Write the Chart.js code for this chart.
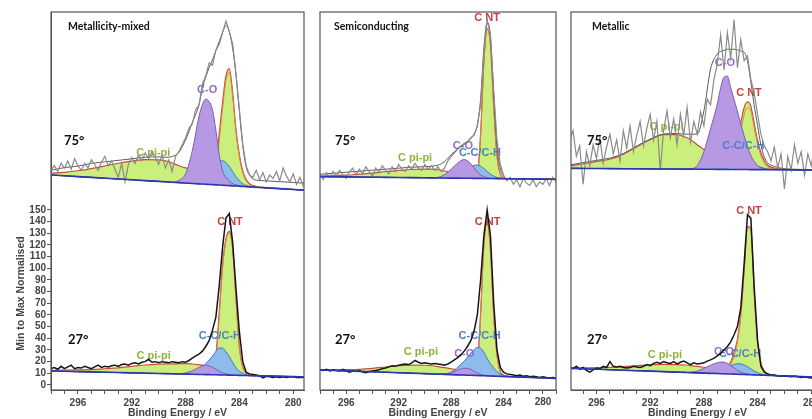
<!DOCTYPE html>
<html>
<head>
<meta charset="utf-8">
<script src="https://cdn.jsdelivr.net/npm/chart.js@4.4.1/dist/chart.umd.min.js"></script>
<style>
  html, body { margin: 0; padding: 0; background: #fff; width: 812px; height: 419px; overflow: hidden; position: relative; }
  canvas { position: absolute; top: 0; }
</style>
</head>
<body>
<canvas id="cLeft" width="310" height="419" style="left:0px"></canvas>
<canvas id="cMid" width="252" height="419" style="left:310px"></canvas>
<canvas id="cRight" width="270" height="419" style="left:562px"></canvas>
<script>
// energy grid of the measured spectra (eV)
var rawE = [298, 297.75, 297.5, 297.25, 297, 296.75, 296.5, 296.25,
  296, 295.75, 295.5, 295.25, 295, 294.75, 294.5, 294.25,
  294, 293.75, 293.5, 293.25, 293, 292.75, 292.5, 292.25,
  292, 291.75, 291.5, 291.25, 291, 290.75, 290.5, 290.25,
  290, 289.75, 289.5, 289.25, 289, 288.75, 288.5, 288.25,
  288, 287.75, 287.5, 287.25, 287, 286.75, 286.5, 286.25,
  286, 285.75, 285.5, 285.25, 285, 284.75, 284.5, 284.25,
  284, 283.75, 283.5, 283.25, 283, 282.75, 282.5, 282.25,
  282, 281.75, 281.5, 281.25, 281, 280.75, 280.5, 280.25,
  280, 279.75, 279.5, 279.25];

// energy grid of the fitted components (eV)
var fitE = [298, 297, 296, 295, 294, 293, 292, 291, 290,
  289.5, 289, 288.5, 288, 287.5, 287, 286.75, 286.5, 286.25,
  286, 285.75, 285.5, 285.25, 285, 284.75, 284.5, 284.25, 284,
  283.75, 283.5, 283.25, 283, 282.5, 282, 281, 280, 279];

// background line end points
var bgE = [298, 279];
var bgTL = [180, 166.9], bgTM = [178.6, 176.2], bgTR = [185.7, 184.2];
var bgBL = [12, 6.9], bgBM = [12.9, 5.3], bgBR = [14.3, 6.5];

// ---- 75 deg, metallicity-mixed ----
var rawTL = [184, 188, 183, 190, 186, 192, 185, 194,
  188, 184, 190, 186, 193, 189, 184, 191,
  196, 188, 192, 185, 178, 190, 174, 189,
  195, 190, 197, 192, 199, 194, 200, 195,
  189, 197, 186, 193, 183, 196, 200, 206,
  212, 220, 224, 236, 240, 258, 265, 276,
  274, 287, 292, 302, 312, 303, 292, 266,
  236, 206, 188, 180, 178, 184, 176, 182,
  174, 180, 177, 183, 175, 186, 179, 174,
  181, 172, 178, 170];
var piPiTL = [1.5, 3, 5, 7.5, 10.5, 13.5, 16, 18, 18.5,
  18, 16.5, 14.5, 13, 12, 11, 10.5, 10, 9,
  8, 7, 6, 5, 4, 3.3, 2.7, 2.2, 1.7,
  1.3, 1, 0.7, 0.5, 0.3, 0.1, 0, 0, 0];
var cntTL = [0, 0, 0, 0, 0, 0, 0, 0, 0,
  0, 0, 0, 0, 0, 0, 0, 0, 1,
  3, 11, 38, 66, 90, 97, 77, 46, 25,
  12, 5, 2, 0.7, 0.1, 0, 0, 0, 0];
var coTL = [0, 0, 0, 0, 0, 0, 0, 0, 0,
  0, 0, 2, 8, 28, 58, 68, 73, 71,
  64, 47, 26, 12, 7, 4, 2, 1, 0.5,
  0.2, 0, 0, 0, 0, 0, 0, 0, 0];
var ccTL = [0, 0, 0, 0, 0, 0, 0, 0, 0,
  0, 0, 0, 0, 0.2, 1.5, 3, 5.5, 9,
  12.5, 16.5, 20, 21, 19.5, 16.5, 12, 8, 4.5,
  2.3, 1, 0.5, 0.2, 0, 0, 0, 0, 0];
var envTL = [4, 7, 9, 12, 14, 16, 18, 20, 21,
  21, 22, 26, 37, 52, 68, 82, 92, 100,
  107, 115, 123, 131, 137, 132, 118, 95, 64,
  35, 17, 10, 7, 6, 6, 6, 6, 6];

// ---- 27 deg, metallicity-mixed ----
var rawBL = [14, 15, 13.5, 16, 14, 15.5, 17, 14,
  15, 14.5, 16, 15, 14, 15.5, 17, 15,
  16, 15.5, 16.5, 17, 16, 17.5, 18, 17,
  18.5, 19, 18, 19.5, 20, 22, 19.5, 20,
  19, 20, 19.5, 19, 20, 19.5, 19, 20,
  19.5, 21, 23, 25, 26.5, 29, 33, 38,
  47, 58, 85, 118, 143, 147, 122, 82,
  45, 20, 11, 9.5, 9, 8.5, 8, 6,
  7.5, 7, 6.5, 7, 6.5, 7, 6.5, 7,
  7, 6.5, 6.5, 6.5];
var piPiBL = [0.5, 1, 1.5, 2, 3, 4, 5.5, 7, 8,
  8.3, 8.5, 8.8, 9, 8.8, 8.3, 8, 7.5, 6.5,
  5.5, 4.5, 3.5, 2.5, 1.8, 1.2, 0.8, 0.5, 0.3,
  0.2, 0.1, 0, 0, 0, 0, 0, 0, 0];
var cntBL = [0, 0, 0, 0, 0, 0, 0, 0, 0,
  0, 0, 0, 0, 0, 0, 0, 0, 0.5,
  2, 12, 50, 92, 115, 122, 108, 65, 24,
  7, 2, 0.5, 0, 0, 0, 0, 0, 0];
var coBL = [0, 0, 0, 0, 0, 0, 0, 0, 0,
  0, 0, 0.2, 1, 3, 6, 7.3, 8, 7.5,
  6.5, 4.8, 3, 1.8, 1, 0.5, 0.2, 0, 0,
  0, 0, 0, 0, 0, 0, 0, 0, 0];
var ccBL = [0, 0, 0, 0, 0, 0, 0, 0, 0,
  0, 0, 0, 0.3, 1, 4, 6.5, 9.5, 12.5,
  16, 20, 23, 23, 20, 16, 11, 6.5, 3.5,
  1.8, 0.8, 0.3, 0.1, 0, 0, 0, 0, 0];

// ---- 75 deg, semiconducting ----
var rawTM = [180, 176, 182, 178, 183, 179, 184, 180,
  177, 183, 186, 180, 185, 181, 187, 183,
  179, 186, 182, 188, 184, 181, 187, 183,
  189, 185, 183, 188, 185, 190, 186, 184,
  189, 185, 188, 184, 187, 183, 186, 192,
  196, 199, 202, 205, 207, 209, 212, 214,
  222, 240, 285, 313, 300, 252, 210, 189,
  180, 175, 178, 172, 176, 170, 177, 173,
  171, 176, 170, 174, 172, 177, 171, 178,
  174, 176, 173, 175];
var piPiTM = [0.5, 1, 1.5, 2.5, 3.5, 5, 6, 7, 7.5,
  7.5, 7, 6, 5, 4, 3, 2.5, 2, 1.6,
  1.2, 0.9, 0.6, 0.4, 0.3, 0.2, 0.1, 0, 0,
  0, 0, 0, 0, 0, 0, 0, 0, 0];
var cntTM = [0, 0, 0, 0, 0, 0, 0, 0, 0,
  0, 0, 0, 0, 0, 0, 0, 0, 0.5,
  3, 37, 100, 128, 115, 62, 20, 4, 0.5,
  0, 0, 0, 0, 0, 0, 0, 0, 0];
var coTM = [0, 0, 0, 0, 0, 0, 0, 0, 0,
  0, 0.5, 3, 7.5, 13, 16, 15, 12.5, 9,
  5.5, 3, 1.5, 0.6, 0.2, 0, 0, 0, 0,
  0, 0, 0, 0, 0, 0, 0, 0, 0];
var ccTM = [0, 0, 0, 0, 0, 0, 0, 0, 0,
  0, 0, 0, 0.3, 1.5, 4.5, 7, 9.5, 11.2,
  11.5, 10.5, 8.5, 6, 3.8, 2, 1, 0.4, 0.1,
  0, 0, 0, 0, 0, 0, 0, 0, 0];
var envTM = [2, 3, 4, 5, 6, 7, 8, 9, 9.5,
  10, 11, 14, 20, 25, 29, 31, 34, 38,
  46, 68, 112, 134, 122, 72, 28, 9, 2,
  0, 0, 0, 0, 0, 0, 0, 0, 0];

// ---- 27 deg, semiconducting ----
var rawBM = [13, 12.5, 13.5, 12, 13, 12.5, 12, 13.5,
  12, 11, 12, 11.5, 12.5, 11, 10.5, 11.5,
  12, 12.5, 13, 14, 14.5, 15.5, 16.5, 16,
  17, 17.5, 18, 17.5, 19, 21, 19.5, 18.5,
  19, 18.5, 18, 18.5, 18, 17.5, 17, 18,
  19.5, 21.5, 23.5, 26, 29, 33, 38, 46,
  60, 90, 128, 150, 128, 70, 30, 15,
  11, 9.5, 9, 8.5, 8, 8.5, 7.5, 8,
  7, 7.5, 7, 6.5, 7, 6.5, 6, 6.5,
  6, 6, 5.5, 5.5];
var piPiBM = [0.3, 0.5, 1, 1.8, 3, 4.5, 6, 7, 7.2,
  7, 6.5, 5.8, 5, 4.2, 3.4, 3, 2.6, 2.2,
  1.8, 1.5, 1.2, 1, 0.8, 0.6, 0.5, 0.4, 0.3,
  0.2, 0.15, 0.1, 0.05, 0, 0, 0, 0, 0];
var cntBM = [0, 0, 0, 0, 0, 0, 0, 0, 0,
  0, 0, 0, 0, 0, 0, 0, 1, 3,
  9, 52, 112, 131, 108, 52, 18, 4, 1,
  0.3, 0, 0, 0, 0, 0, 0, 0, 0];
var coBM = [0, 0, 0, 0, 0, 0, 0, 0, 0,
  0, 0, 0.3, 1.5, 4, 5.8, 5.8, 5, 3.5,
  2, 1, 0.4, 0.2, 0.1, 0, 0, 0, 0,
  0, 0, 0, 0, 0, 0, 0, 0, 0];
var ccBM = [0, 0, 0, 0, 0, 0, 0, 0, 0,
  0, 0, 0.5, 2, 6.5, 12, 15.5, 19, 22,
  24, 23.5, 20, 15, 10.5, 7, 4, 2, 1,
  0.4, 0.1, 0, 0, 0, 0, 0, 0, 0];

// ---- 75 deg, metallic ----
var rawTR = [210, 218, 196, 205, 172, 200, 188, 206,
  194, 212, 190, 204, 215, 198, 210, 192,
  218, 203, 222, 200, 214, 226, 205, 220,
  232, 210, 226, 184, 218, 235, 212, 228,
  206, 232, 214, 238, 208, 226, 215, 234,
  222, 245, 240, 262, 275, 300, 270, 302,
  280, 313, 272, 296, 278, 282, 262, 250,
  232, 215, 205, 200, 192, 204, 186, 198,
  168, 196, 184, 206, 190, 200, 180, 198,
  188, 205, 192, 200];
var piPiTR = [2, 4, 6, 8, 12.5, 19, 25, 29.5, 29.5,
  28, 25.5, 21, 17, 14, 12.5, 12, 11.5, 11,
  10, 9, 8, 7, 6, 5, 4.2, 3.5, 3,
  2.5, 2, 1.5, 1.2, 0.7, 0.4, 0.1, 0, 0];
var cntTR = [0, 0, 0, 0, 0, 0, 0, 0, 0,
  0, 0, 0, 0, 0, 0, 0, 0.3, 1,
  2.5, 7, 15, 33, 47, 53, 50, 36, 22,
  12, 6, 2.5, 1, 0.2, 0, 0, 0, 0];
var coTR = [0, 0, 0, 0, 0, 0, 0, 0, 0,
  0, 0.2, 3, 15, 35, 56, 70, 79, 80,
  70, 60, 50, 39, 29, 20, 12, 7, 3.5,
  1.6, 0.7, 0.3, 0.1, 0, 0, 0, 0, 0];
var ccTR = [0, 0, 0, 0, 0, 0, 0, 0, 0,
  0, 0, 0, 0.3, 1, 2.5, 3.7, 5, 6.3,
  7.5, 9, 10, 10, 9.3, 8, 6.3, 4.6, 3,
  2, 1.2, 0.7, 0.4, 0.1, 0, 0, 0, 0];
var envTR = [3, 5, 7, 9, 13, 19.5, 25.5, 30, 30.5,
  30, 30, 30, 50, 86, 99, 101, 102, 103,
  103, 103, 102.5, 101.5, 100.5, 93, 75, 55, 38,
  21, 11, 6, 4, 2, 1, 0.5, 0.3, 0.2];

// ---- 27 deg, metallic ----
var rawBR = [15, 14, 16, 13.5, 15, 12.5, 11, 13,
  14.5, 14, 16, 15, 20, 16, 15.5, 16,
  15, 14.5, 15, 16, 15.5, 15, 16, 17.5,
  16.5, 18.5, 19.5, 18.5, 20, 19, 18.5, 20,
  18, 19.5, 20.5, 19, 17.5, 19, 18, 18.5,
  19, 20.5, 21.5, 23, 25, 27, 30, 33,
  37, 43, 50, 66, 104, 146, 143, 84,
  38, 16, 11, 9.5, 8.5, 8.5, 8, 7.5,
  8, 7.5, 7, 7.5, 7, 6.5, 7, 6.5,
  6, 6, 6, 5.5];
var piPiBR = [0.5, 0.8, 1.3, 2, 3, 4.3, 5.5, 6.3, 6.5,
  6.3, 6, 5.5, 5, 4.4, 3.8, 3.5, 3.2, 2.9,
  2.6, 2.3, 2, 1.7, 1.4, 1.2, 1, 0.8, 0.6,
  0.5, 0.4, 0.3, 0.2, 0.1, 0, 0, 0, 0];
var cntBR = [0, 0, 0, 0, 0, 0, 0, 0, 0,
  0, 0, 0, 0, 0, 0, 0, 1, 3,
  8, 16, 28, 50, 88, 126, 124, 70, 28,
  10, 3.5, 1, 0.3, 0, 0, 0, 0, 0];
var coBR = [0, 0, 0, 0, 0, 0, 0, 0, 0,
  0, 0.3, 1.5, 4, 7, 9.3, 10, 10, 9,
  7.3, 5.3, 3.5, 2, 1, 0.5, 0.2, 0, 0,
  0, 0, 0, 0, 0, 0, 0, 0, 0];
var ccBR = [0, 0, 0, 0, 0, 0, 0, 0, 0,
  0, 0, 0, 0, 0.5, 1.5, 2.7, 4, 5.5,
  7, 8.3, 9, 9, 8.2, 6.8, 5, 3.3, 2,
  1, 0.4, 0.2, 0.1, 0, 0, 0, 0, 0];

var RED = '#c8413a', PURPLE = '#8f6cc4', BLUE = '#4f7fc2', GREEN = '#8cb43c';

Chart.defaults.font.family = '"Liberation Sans", Arial, sans-serif';

function level(bg, e) {
  return bg[0] + (bg[1] - bg[0]) * (bgE[0] - e) / (bgE[0] - bgE[1]);
}
function above(bg, h) {
  return fitE.map(function (e, i) { return { x: e, y: level(bg, e) + h[i] }; });
}

function addSpectrum(sets, s) {
  var b = sets.length;
  var zero = fitE.map(function () { return 0; });
  var sp2 = s.piPi.map(function (v, i) { return v + s.cnt[i]; });
  sets.push({ data: above(s.bg, zero), borderColor: '#2c36b0', borderWidth: 1.6, order: 1 });
  sets.push({ data: rawE.map(function (e, i) { return { x: e, y: s.raw[i] }; }),
    borderColor: s.top ? '#8a8a8a' : '#161616', borderWidth: s.top ? 1.2 : 1.5,
    cubicInterpolationMode: 'default', tension: 0, order: 2 });
  if (s.env) {
    sets.push({ data: above(s.bg, s.env), borderColor: '#5c5c5c', borderWidth: 1, order: 3 });
  }
  // labels go on top of this (last filled) layer, under the lines
  sets.push({ data: above(s.bg, s.co), borderColor: '#7b5cb5', borderWidth: 1,
    backgroundColor: '#b699e2', fill: { target: b }, order: 4, labelHook: !s.top });
  sets.push({ data: above(s.bg, s.cc), borderColor: '#3f77c4', borderWidth: 1,
    backgroundColor: '#8dbbeb', fill: { target: b }, order: 5 });
  sets.push({ data: above(s.bg, s.cnt), borderColor: '#e0804a', borderWidth: 1, fill: false, order: 6 });
  sets.push({ data: above(s.bg, sp2), borderColor: '#cf4a3c', borderWidth: 1.2,
    backgroundColor: '#cbef7c', fill: { target: b }, order: 7 });
}

var decor = {
  id: 'decor',
  afterDatasetDraw: function (chart, args, o) {
    if (!chart.data.datasets[args.index].labelHook) return;
    var ctx = chart.ctx, sx = chart.scales.x, sy = chart.scales.y;
    ctx.save();
    ctx.font = 'bold 11px "Liberation Sans", Arial';
    ctx.textAlign = 'center';
    ctx.textBaseline = 'middle';
    o.peaks.forEach(function (p) {
      ctx.fillStyle = p.c;
      ctx.fillText(p.t, sx.getPixelForValue(p.e), sy.getPixelForValue(p.v));
    });
    ctx.restore();
  },
  afterDraw: function (chart, args, o) {
    var ctx = chart.ctx, a = chart.chartArea;
    ctx.save();
    ctx.strokeStyle = '#555';
    ctx.lineWidth = 1.2;
    ctx.strokeRect(a.left, a.top, a.right - a.left, a.bottom - a.top);
    ctx.fillStyle = '#111';
    ctx.textBaseline = 'middle';
    ctx.textAlign = 'left';
    ctx.font = 'bold 10.5px Lato, "Open Sans", sans-serif';
    ctx.fillText(o.title, a.left + o.titleDx, 26.5);
    ctx.font = 'bold 13px Lato, "Open Sans", sans-serif';
    ctx.fillText('75°', a.left + o.angleDx[0], 141);
    ctx.fillText('27°', a.left + o.angleDx[1], 340);
    ctx.fillStyle = '#444';
    ctx.textAlign = 'center';
    if (o.edgeLabel) {
      // last tick label squeezed inside the frame, as in the source figure
      ctx.font = 'bold 10px "Liberation Sans", Arial';
      ctx.fillText(o.edgeLabel, a.right - 13, 402.5);
    }
    ctx.font = 'bold 10.5px "Liberation Sans", Arial';
    ctx.fillText('Binding Energy / eV', (a.left + a.right) / 2, 413.5);
    if (o.yTitle) {
      ctx.translate(21, 293.5);
      ctx.rotate(-Math.PI / 2);
      ctx.fillText('Min to Max Normalised', 0, 0);
    }
    ctx.restore();
  }
};

function makeChart(id, top, bottom, xr, pad, showY, deco) {
  var sets = [];
  addSpectrum(sets, bottom);
  addSpectrum(sets, top);
  deco.yTitle = showY;
  return new Chart(document.getElementById(id), {
    type: 'line',
    data: { datasets: sets },
    plugins: [decor],
    options: {
      responsive: false,
      animation: false,
      events: [],
      layout: { padding: { left: pad[0], right: pad[1], top: 12, bottom: 0 } },
      elements: {
        point: { radius: 0 },
        line: { cubicInterpolationMode: 'monotone', fill: false }
      },
      plugins: { legend: { display: false }, tooltip: { enabled: false }, decor: deco },
      scales: {
        x: {
          type: 'linear', reverse: true, min: xr[0], max: xr[1],
          ticks: {
            stepSize: 1, includeBounds: false, autoSkip: false, maxRotation: 0, padding: 3,
            color: '#444', font: { size: 10, weight: 'bold' },
            callback: function (v) {
              if (deco.edgeLabel && String(v) === deco.edgeLabel) return '';
              return v % 4 === 0 ? String(v) : '';
            }
          },
          grid: { drawOnChartArea: false, drawTicks: true, tickLength: 4, color: '#555' },
          border: { display: true, color: '#555', width: 1 },
          afterFit: function (s) { s.height = 29; s.paddingLeft = 0; s.paddingRight = 0; }
        },
        y: {
          type: 'linear', min: -4.3, max: 319.7, display: showY,
          ticks: {
            stepSize: 10, includeBounds: false, autoSkip: false, padding: 1,
            color: '#444', font: { size: 10, weight: 'bold' }
          },
          grid: { drawOnChartArea: false, drawTicks: true, tickLength: 4, color: '#555' },
          border: { display: true, color: '#555', width: 1 },
          afterBuildTicks: function (s) {
            s.ticks = s.ticks.filter(function (t) { return t.value >= 0 && t.value <= 150; });
          },
          afterFit: function (s) { s.width = showY ? 51 : 0; }
        }
      }
    }
  });
}

makeChart('cLeft',
  { top: true, raw: rawTL, bg: bgTL, piPi: piPiTL, cnt: cntTL, co: coTL, cc: ccTL, env: envTL },
  { top: false, raw: rawBL, bg: bgBL, piPi: piPiBL, cnt: cntBL, co: coBL, cc: ccBL },
  [279.2, 298], [0, 6], true,
  { title: 'Metallicity-mixed', titleDx: 17, angleDx: [13, 17],
    peaks: [
      { t: 'C-O', e: 286.4, v: 253, c: PURPLE },
      { t: 'C pi-pi', e: 290.4, v: 199, c: GREEN },
      { t: 'C NT', e: 284.7, v: 140, c: RED },
      { t: 'C-C/C-H', e: 285.45, v: 42, c: BLUE },
      { t: 'C pi-pi', e: 290.37, v: 25, c: GREEN }
    ] });

makeChart('cMid',
  { top: true, raw: rawTM, bg: bgTM, piPi: piPiTM, cnt: cntTM, co: coTM, cc: ccTM, env: envTM },
  { top: false, raw: rawBM, bg: bgBM, piPi: piPiBM, cnt: cntBM, co: coBM, cc: ccBM },
  [280, 298], [10, 6], false,
  { title: 'Semiconducting', titleDx: 14, angleDx: [15, 15], edgeLabel: '280',
    peaks: [
      { t: 'C NT', e: 285.26, v: 315, c: RED },
      { t: 'C-O', e: 287.1, v: 205, c: PURPLE },
      { t: 'C-C/C-H', e: 285.8, v: 199, c: BLUE },
      { t: 'C pi-pi', e: 290.75, v: 195, c: GREEN },
      { t: 'C NT', e: 285.22, v: 140, c: RED },
      { t: 'C-O', e: 287.0, v: 26.6, c: PURPLE },
      { t: 'C-C/C-H', e: 285.82, v: 42, c: BLUE },
      { t: 'C pi-pi', e: 290.3, v: 27.9, c: GREEN }
    ] });

makeChart('cRight',
  { top: true, raw: rawTR, bg: bgTR, piPi: piPiTR, cnt: cntTR, co: coTR, cc: ccTR, env: envTR },
  { top: false, raw: rawBR, bg: bgBR, piPi: piPiBR, cnt: cntBR, co: coBR, cc: ccBR },
  [279.05, 297.9], [9, 8], false,
  { title: 'Metallic', titleDx: 21, angleDx: [16, 16],
    peaks: [
      { t: 'C-O', e: 286.43, v: 276, c: PURPLE },
      { t: 'C NT', e: 284.64, v: 250.7, c: RED },
      { t: 'C-C/C-H', e: 285.06, v: 205, c: BLUE },
      { t: 'C pi-pi', e: 290.77, v: 221.4, c: GREEN },
      { t: 'C NT', e: 284.64, v: 148.9, c: RED },
      { t: 'C-O', e: 286.5, v: 28.6, c: PURPLE },
      { t: 'C-C/C-H', e: 285.3, v: 27, c: BLUE },
      { t: 'C pi-pi', e: 290.9, v: 26, c: GREEN }
    ] });
</script>
</body>
</html>
